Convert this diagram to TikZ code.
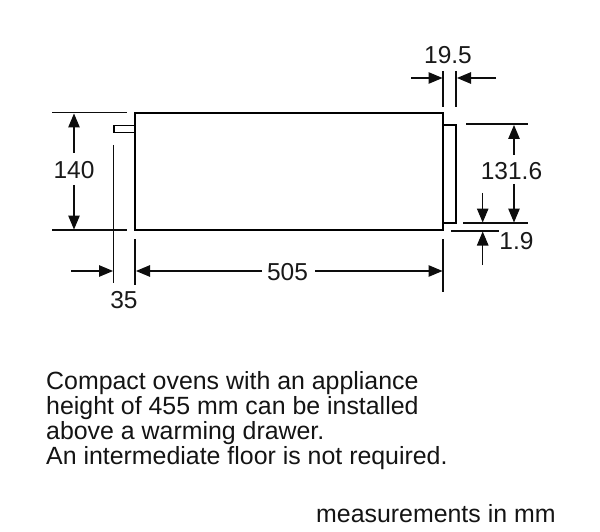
\documentclass[tikz,border=0pt]{standalone}
\usepackage{fontspec}
\setmainfont{Liberation Sans}
\usetikzlibrary{arrows.meta}
\tikzset{
  x=1pt,y=-1pt,
  outline/.style={line width=2pt,line join=miter},
  thin part/.style={line width=1.3pt},
  dimline/.style={line width=1.1pt,black!95},
  dimarrow/.style={dimline,-{Triangle[length=14pt,width=11.5pt]},shorten >=0pt},
  dim/.style={font=\fontsize{24.5}{26}\selectfont,inner sep=0pt,text=black!90},
  para/.style={font=\fontsize{24.9}{26}\selectfont,inner sep=0pt,anchor=base west,text=black!92}
}
\begin{document}
\begin{tikzpicture}
\useasboundingbox (0,0) rectangle (600,532);
\fill[white] (0,0) rectangle (600,532);
% appliance
\draw[outline] (135,113) rectangle (443,230);
\draw[line width=1.7pt] (443,124.7) -- (456,124.7) -- (456,223.3) -- (443,223.3);
\draw[thin part] (135,125.3) -- (114,125.3) -- (114,132.7) -- (135,132.7);
% extension lines
\draw[dimline] (52,112.7) -- (127,112.7);
\draw[dimline] (52,230) -- (127,230);
\draw[dimline] (113.5,145) -- (113.5,283);
\draw[dimline] (135,239) -- (135,285);
\draw[dimline] (443,239) -- (443,292);
\draw[dimline] (443,71) -- (443,107);
\draw[dimline] (456,71) -- (456,107);
\draw[dimline] (466,124) -- (528,124);
\draw[dimline] (463,223) -- (528,223);
\draw[dimline] (451,231) -- (499,231);
% labels
\node[dim] (d195) at (448,55) {19.5};
\node[dim] (d140) at (74,170) {140};
\node[dim] (d1316) at (511.5,171) {131.6};
\node[dim] (d19) at (516.5,241) {1.9};
\node[dim] (d505) at (287.5,272) {505};
\node[dim] (d35) at (124,300) {35};
% arrows
\draw[dimarrow] (74,153) -- (74,113.5);
\draw[dimarrow] (74,185) -- (74,229.5);
\draw[dimarrow] (71,271) -- (113,271);
\draw[dimarrow] (262,271) -- (136,271);
\draw[dimarrow] (315,271) -- (442.5,271);
\draw[dimarrow] (411,78) -- (442.5,78);
\draw[dimarrow] (496,78) -- (457,78);
\draw[dimarrow] (514,155) -- (514,125);
\draw[dimarrow] (514,184) -- (514,222.5);
\draw[dimarrow] (482.7,193) -- (482.7,222.5);
\draw[dimarrow] (482.7,265) -- (482.7,231.5);
% text
\node[para] (t1) at (46,389) {Compact ovens with an appliance};
\node[para] (t2) at (46,414.5) {height of 455 mm can be installed};
\node[para] (t3) at (46,439) {above a warming drawer.};
\node[para] (t4) at (46,464) {An intermediate floor is not required.};
\node[para] (t5) at (316,522) {measurements in mm};
\end{tikzpicture}
\end{document}
